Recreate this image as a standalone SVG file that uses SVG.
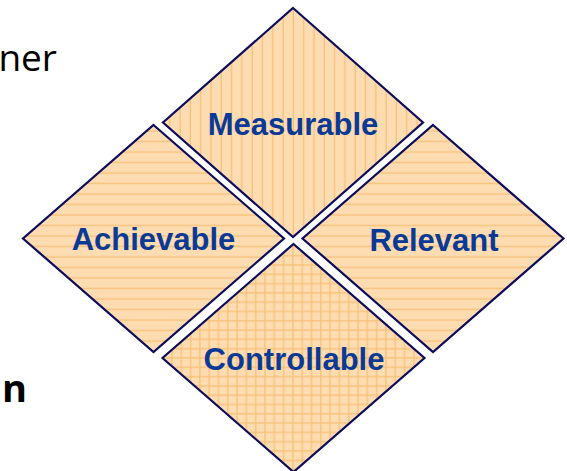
<svg xmlns="http://www.w3.org/2000/svg" width="567" height="471" viewBox="0 0 567 471">
  <style>
    .dia { stroke: #0b0b5e; stroke-width: 2.2; stroke-linejoin: miter; }
    .lbl { font-family: "Liberation Sans", Arial, sans-serif; font-weight: bold; font-size: 31px; fill: #0a3a96; text-anchor: middle; }
    .side { font-family: "Open Sans", "Liberation Sans", sans-serif; fill: #000000; }
  </style>
  <defs>
    <pattern id="pv" patternUnits="userSpaceOnUse" x="0" y="0" width="10.3" height="10">
      <rect width="10.3" height="10" fill="#fddcb2"/>
      <line x1="5" y1="0" x2="5" y2="10" stroke="#f7bf72" stroke-width="1.2"/>
    </pattern>
    <pattern id="ph" patternUnits="userSpaceOnUse" x="0" y="0" width="10" height="10.5">
      <rect width="10" height="10.5" fill="#fddcb2"/>
      <line x1="0" y1="5" x2="10" y2="5" stroke="#f7bf72" stroke-width="1.2"/>
    </pattern>
    <pattern id="pg" patternUnits="userSpaceOnUse" x="0" y="0" width="9.3" height="9.3">
      <rect width="9.3" height="9.3" fill="#fddcb2"/>
      <line x1="4.6" y1="0" x2="4.6" y2="9.3" stroke="#f7bf72" stroke-width="1.2"/>
      <line x1="0" y1="4.6" x2="9.3" y2="4.6" stroke="#f7bf72" stroke-width="1.2"/>
    </pattern>
  </defs>

  <text class="side" x="57" y="71" font-size="37" text-anchor="end">ner</text>
  <text class="side" x="2" y="402" font-size="38" font-weight="bold">n</text>

  <g id="measurable">
    <polygon class="dia" fill="url(#pv)" points="293,8 423,122.5 293,237 163,122.5"/>
    <text class="lbl" x="293" y="135">Measurable</text>
  </g>
  <g id="achievable">
    <polygon class="dia" fill="url(#ph)" points="153.5,125 284,238.5 153.5,352 23,238.5"/>
    <text class="lbl" x="153.5" y="250">Achievable</text>
  </g>
  <g id="relevant">
    <polygon class="dia" fill="url(#ph)" points="433,125 563.5,238.5 433,352 302.5,238.5"/>
    <text class="lbl" x="434" y="251">Relevant</text>
  </g>
  <g id="controllable">
    <polygon class="dia" fill="url(#pg)" points="293.5,244 424.5,358 293.5,472 162.5,358"/>
    <text class="lbl" x="294" y="370">Controllable</text>
  </g>
  <g id="connectors"></g>
</svg>
